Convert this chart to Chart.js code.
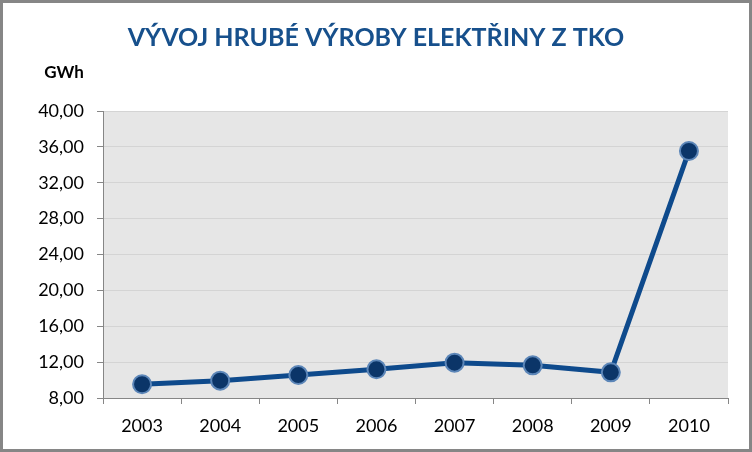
<!DOCTYPE html>
<html><head><meta charset="utf-8">
<script src="https://cdn.jsdelivr.net/npm/chart.js@4"></script>
<style>html,body{margin:0;padding:0;background:#fff;} canvas{display:block}</style>
</head><body>
<canvas id="c" width="752" height="452"></canvas>
<script>
const years = ['2003', '2004', '2005', '2006', '2007', '2008', '2009', '2010'];
const values = [9.53, 9.93, 10.56, 11.2, 11.94, 11.64, 10.86, 35.54];
const yMin = 8, yMax = 40, yStep = 4;
const titleText = 'VÝVOJ HRUBÉ VÝROBY ELEKTŘINY Z TKO';
const unitLabel = 'GWh';

const decor = {
  id: 'decor',
  beforeDraw(chart) {
    const {ctx, chartArea: a} = chart;
    ctx.save();
    ctx.fillStyle = '#e6e6e6';
    ctx.fillRect(a.left, a.top, a.right - a.left, a.bottom - a.top);
    ctx.restore();
  },
  afterDraw(chart) {
    const ctx = chart.ctx;
    ctx.save();
    ctx.fillStyle = '#17508c';
    ctx.font = 'bold 25px Lato';
    ctx.textAlign = 'center';
    ctx.textBaseline = 'middle';
    ctx.fillText(titleText, 376, 38);
    ctx.fillStyle = '#000';
    ctx.font = 'bold 17px Lato';
    ctx.fillText(unitLabel, 64, 73);
    ctx.strokeStyle = '#868686';
    ctx.lineWidth = 3;
    ctx.strokeRect(1.5, 1.5, 749, 449);
    ctx.restore();
  }
};

new Chart(document.getElementById('c'), {
  type: 'line',
  data: {
    labels: years,
    datasets: [{
      data: values,
      borderColor: '#0e4a8c',
      borderWidth: 5,
      pointRadius: 9,
      pointHoverRadius: 9,
      pointBackgroundColor: '#0b3568',
      pointBorderColor: '#5c86b8',
      pointBorderWidth: 2,
      tension: 0
    }]
  },
  options: {
    responsive: false,
    animation: false,
    devicePixelRatio: 1,
    layout: {padding: {left: 0, right: 24, top: 111, bottom: 0}},
    plugins: {
      legend: {display: false},
      tooltip: {enabled: false},
      title: {display: false}
    },
    scales: {
      x: {
        offset: true,
        grid: {offset: true, drawOnChartArea: false, tickLength: 6, tickColor: '#868686', tickWidth: 1},
        border: {color: '#868686', width: 1},
        ticks: {color: '#000', font: {family: 'Lato', size: 18}, padding: 11, maxRotation: 0},
        afterFit(s) { s.height = 54; }
      },
      y: {
        min: yMin, max: yMax,
        grid: {color: '#d4d4d4', tickLength: 6, tickColor: '#868686', lineWidth: 1},
        border: {color: '#868686', width: 1},
        ticks: {
          stepSize: yStep,
          color: '#000',
          font: {family: 'Lato', size: 18},
          padding: 13,
          callback: v => v.toFixed(2).replace('.', ',')
        },
        afterFit(s) { s.width = 103; }
      }
    }
  },
  plugins: [decor]
});
</script>
</body></html>
